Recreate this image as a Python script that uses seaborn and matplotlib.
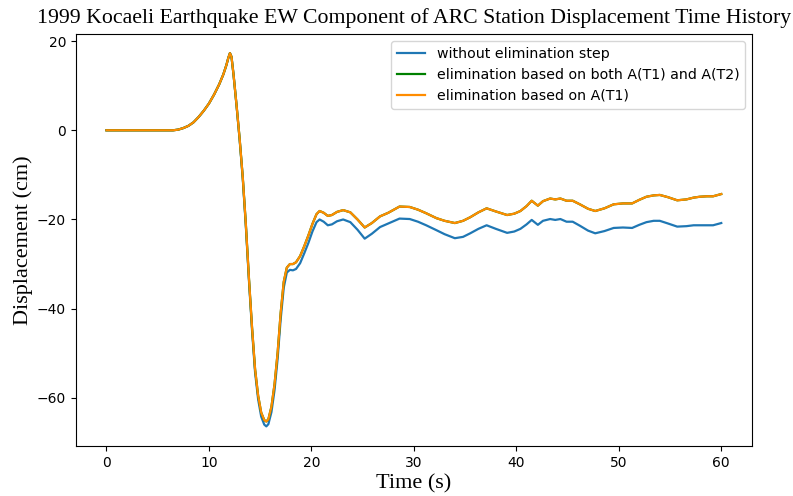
import matplotlib
matplotlib.use("Agg")
import matplotlib.pyplot as plt
import seaborn as sns
import pandas as pd

# Time samples (s)
time_s = [0, 6.5, 7, 7.5, 8, 8.5, 9, 9.5, 10, 10.5, 11, 11.4, 11.7, 11.9, 12.05,
          12.2, 12.4, 12.7, 13.0, 13.3, 13.6, 13.9, 14.2, 14.5, 14.8, 15.1, 15.4,
          15.6, 15.8, 16.1, 16.4, 16.7, 17.0, 17.3, 17.6, 17.9, 18.2, 18.5, 18.9,
          19.3, 19.7, 20.1, 20.5, 20.8, 21.2, 21.6, 22.0, 22.5, 23.1, 23.8, 24.5,
          25.2, 25.9, 26.7, 27.5, 28.6, 29.6, 30.4, 31.2, 32.2, 33.0, 34.0, 34.8,
          35.5, 36.3, 37.1, 38.0, 39.1, 39.8, 40.4, 41.0, 41.5, 42.1, 42.6, 43.3,
          43.8, 44.3, 44.9, 45.5, 46.2, 47.0, 47.7, 48.6, 49.5, 50.4, 51.3, 52.0,
          52.7, 53.4, 54.0, 54.8, 55.7, 56.6, 57.3, 57.9, 58.6, 59.2, 60.0]

# Displacement without the elimination step (cm)
disp_raw = [0, 0, 0.15, 0.5, 1.0, 1.8, 3.0, 4.4, 6.0, 8.0, 10.3, 12.5, 14.6, 16.3, 17.3,
            16.5, 12.5, 5.4, -2.2, -10.8, -21.4, -33.5, -44.6, -54.2, -60.3, -64.2, -66.0,
            -66.4, -65.9, -63.2, -58.3, -51.3, -42.4, -35.3, -31.9, -31.3, -31.4, -31.1, -29.8,
            -27.6, -25.3, -22.7, -20.6, -20.0, -20.5, -21.3, -21.1, -20.4, -20.0, -20.6, -22.3,
            -24.3, -23.2, -21.7, -20.9, -19.8, -19.9, -20.5, -21.3, -22.4, -23.3, -24.2, -23.9,
            -23.1, -22.1, -21.3, -22.1, -23.0, -22.7, -22.1, -21.1, -20.1, -21.2, -20.3, -19.9,
            -20.1, -19.9, -20.5, -20.5, -21.4, -22.5, -23.1, -22.6, -21.9, -21.8, -21.9, -21.2,
            -20.6, -20.3, -20.3, -20.9, -21.6, -21.5, -21.3, -21.3, -21.3, -21.3, -20.8]

# Displacement with elimination based on A(T1) (cm)
disp_t1 = [0, 0, 0.15, 0.5, 1.0, 1.8, 3.0, 4.4, 6.0, 8.0, 10.3, 12.5, 14.6, 16.3, 17.3,
           16.5, 12.5, 5.5, -2.0, -10.5, -21.0, -33.0, -44.0, -53.5, -59.5, -63.3, -65.0,
           -65.3, -64.8, -62.0, -57.0, -50.0, -41.0, -34.0, -30.8, -30.0, -30.0, -29.6, -28.2,
           -26.0, -23.6, -21.0, -18.8, -18.1, -18.5, -19.2, -19.0, -18.3, -17.9, -18.4, -20.0,
           -21.8, -20.8, -19.3, -18.5, -17.1, -17.2, -17.8, -18.6, -19.7, -20.3, -20.8, -20.3,
           -19.5, -18.4, -17.5, -18.2, -19.0, -18.7, -18.1, -17.0, -15.8, -16.9, -15.9, -15.3,
           -15.5, -15.3, -15.8, -15.8, -16.6, -17.6, -18.1, -17.5, -16.6, -16.4, -16.4, -15.6,
           -14.9, -14.6, -14.5, -15.0, -15.7, -15.5, -15.1, -14.9, -14.8, -14.8, -14.3]

# Displacement with elimination based on both A(T1) and A(T2) (cm)
disp_t1_t2 = list(disp_t1)

series = [
    ("without elimination step", disp_raw, "#1f77b4"),
    ("elimination based on both A(T1) and A(T2)", disp_t1_t2, "green"),
    ("elimination based on A(T1)", disp_t1, "darkorange"),
]

fig = plt.figure(figsize=(7.93, 4.96), dpi=100)
ax = fig.add_axes([0.0955, 0.1008, 0.8528, 0.8307])

for label, values, color in series:
    df = pd.DataFrame({"Time (s)": time_s, "Displacement (cm)": values})
    sns.lineplot(data=df, x="Time (s)", y="Displacement (cm)", ax=ax,
                 color=color, label=label, linewidth=1.6, sort=False)

ax.set_xticks([0, 10, 20, 30, 40, 50, 60])
ax.set_yticks([-60, -40, -20, 0, 20])
ax.set_xlim(-3, 63)
ax.set_ylim(-70.8, 21.6)

serif = ["Liberation Serif", "DejaVu Serif"]
ax.set_title("1999 Kocaeli Earthquake EW Component of ARC Station Displacement Time History",
             family=serif, fontsize=15.7, pad=8)
ax.set_xlabel("Time (s)", family=serif, fontsize=16, labelpad=3)
ax.set_ylabel("Displacement (cm)", family=serif, fontsize=16, labelpad=3)
ax.legend(loc="upper right", fontsize=10.2)

fig.savefig("out.png", dpi=100)
